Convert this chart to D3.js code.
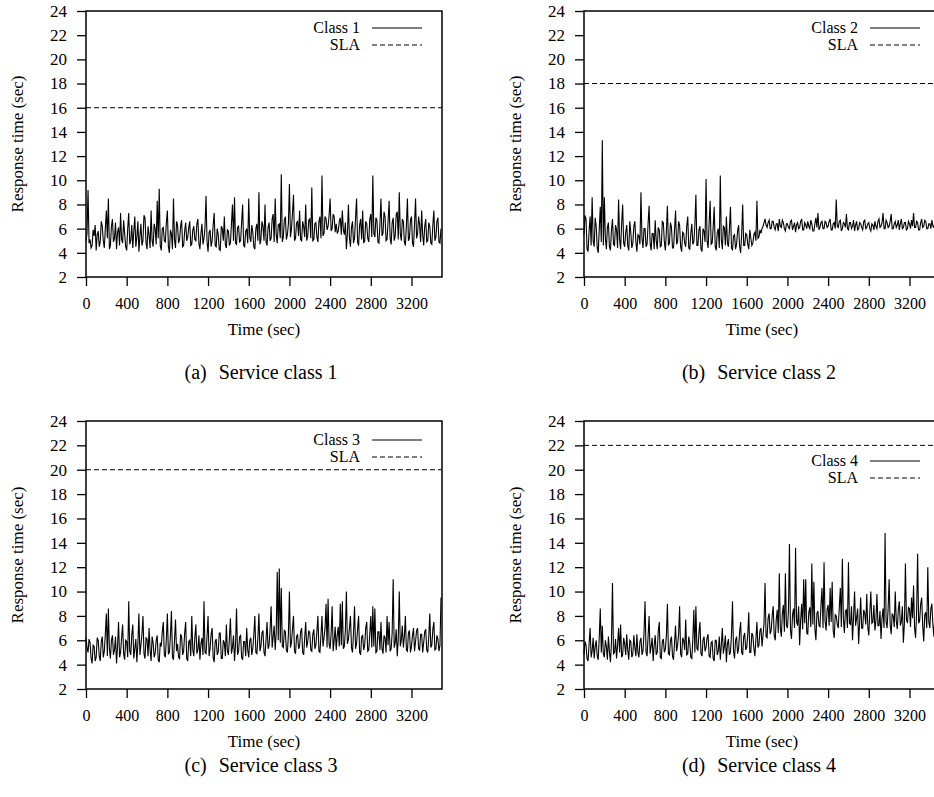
<!DOCTYPE html>
<html>
<head>
<meta charset="utf-8">
<script src="https://cdn.jsdelivr.net/npm/d3@7"></script>
<style>
body { margin: 0; background: #fff; }
svg { display: block; font-family: "Liberation Serif", "Times New Roman", serif; }
</style>
</head>
<body>
<div id="chart"></div>
<script>
// response times sampled every 10 s, starting at t = 0
var timeStep = 10;

var class1Values = [
  5.0,5.6, 9.2,4.8, 5.1,4.4, 4.6,5.9, 5.4,6.3, 4.2,5.5, 5.8,4.5, 4.9,6.6, 6.2,5.0, 4.4,6.0,
  7.5,5.2, 8.5,4.3, 4.6,6.2, 6.8,4.9, 5.2,6.5, 4.3,5.7, 6.1,4.6, 7.3,5.1, 4.8,6.7, 5.6,4.5,
  4.2,6.0, 7.3,4.7, 5.0,6.3, 4.4,5.8, 7.0,4.5, 5.3,6.6, 4.1,5.4, 6.4,4.6, 5.0,7.1, 6.9,4.8,
  4.3,6.2, 5.5,4.4, 7.5,5.0, 4.5,6.4, 6.0,4.7, 8.3,5.2, 9.3,4.6, 4.2,6.0, 6.1,5.0, 4.9,6.5,
  7.5,4.5, 4.0,5.9, 5.6,4.3, 8.5,5.1, 4.4,6.6, 6.3,4.8, 5.1,6.2, 6.7,4.5, 4.6,5.8, 6.5,5.0,
  5.3,6.1, 6.6,4.6, 4.7,5.9, 6.2,5.1, 5.0,6.4, 6.8,4.8, 4.3,5.6, 6.4,4.7, 5.2,6.1, 8.7,4.9,
  4.1,5.7, 5.9,4.5, 5.0,6.3, 7.3,4.6, 4.5,6.0, 5.5,4.3, 4.2,6.2, 6.0,5.0, 7.0,4.7, 4.4,5.9,
  5.8,4.6, 4.8,6.4, 8.0,5.0, 8.6,4.8, 4.7,6.1, 6.2,4.9, 5.0,6.5, 8.0,4.6, 4.5,5.8, 6.0,4.8,
  8.5,5.3, 4.9,6.3, 5.7,4.5, 4.3,6.0, 6.4,5.0, 9.0,4.7, 5.1,6.6, 6.2,5.0, 8.0,4.9, 4.6,6.1,
  6.5,5.0, 5.2,6.8, 7.2,4.9, 8.5,5.5, 4.8,6.3, 6.4,5.2, 10.5,4.9, 5.3,6.7, 7.0,5.1, 5.5,6.4,
  9.7,5.3, 6.0,7.3, 8.8,5.0, 5.2,6.5, 6.6,5.4, 7.5,5.1, 5.0,6.6, 6.2,5.3, 8.0,5.0, 5.4,6.7,
  6.8,5.2, 9.4,5.0, 5.1,6.4, 6.5,5.3, 4.9,6.6, 7.0,5.2, 10.4,5.4, 5.6,7.0, 6.8,5.9, 6.2,7.1,
  8.5,5.8, 6.0,7.2, 7.0,5.7, 6.4,5.6, 5.8,6.6, 6.9,5.5, 7.5,5.9, 5.5,6.5, 4.3,5.6, 8.0,5.2,
  4.5,6.1, 6.6,4.8, 5.2,6.9, 8.5,4.9, 4.6,6.3, 6.8,5.1, 7.5,4.8, 5.0,6.6, 6.4,5.2, 4.9,6.8,
  7.2,5.3, 10.4,5.6, 5.3,6.9, 6.7,4.9, 4.8,6.4, 8.5,5.4, 5.6,7.4, 7.0,5.0, 5.1,6.6, 8.3,5.2,
  4.7,6.5, 6.9,5.0, 5.4,7.2, 7.4,5.1, 9.0,5.6, 5.0,6.8, 6.6,4.9, 4.6,6.3, 8.5,5.0, 5.2,6.7,
  7.0,4.8, 4.5,6.4, 8.5,5.2, 5.6,7.0, 6.3,4.9, 7.5,5.5, 4.6,6.2, 6.8,4.9, 5.0,6.5, 6.2,4.8,
  4.7,6.3, 7.5,5.0, 5.3,6.6, 6.9,4.9, 4.8,6.0
];

var class2Values = [
  5.5,7.1, 6.8,4.3, 4.1,5.8, 7.0,4.6, 8.6,5.0, 4.5,6.9, 6.2,4.4, 4.0,6.0, 7.8,4.9, 13.3,4.6,
  8.6,5.2, 4.3,6.1, 6.5,4.5, 4.2,5.9, 6.8,4.7, 4.6,6.3, 5.9,4.4, 8.4,5.1, 4.3,6.4, 8.0,4.8,
  4.5,5.7, 6.3,4.6, 4.2,6.6, 5.7,4.4, 4.8,6.2, 6.6,4.9, 4.1,5.5, 5.4,4.7, 9.0,5.2, 4.4,6.0,
  6.0,4.5, 4.7,6.4, 7.9,4.8, 4.2,5.6, 5.6,4.3, 6.7,5.0, 4.3,6.1, 5.9,4.5, 4.6,6.6, 6.5,4.9,
  4.2,5.8, 7.9,4.6, 4.8,6.5, 6.1,4.4, 4.4,5.9, 7.5,4.7, 4.9,6.6, 6.3,4.5, 4.1,5.7, 5.6,4.8,
  4.5,6.2, 7.0,4.4, 4.3,5.6, 6.4,4.7, 4.9,6.3, 8.8,4.6, 4.6,5.9, 6.2,4.3, 4.1,6.0, 5.8,4.9,
  10.1,5.0, 4.4,6.4, 8.3,4.7, 4.8,6.1, 7.8,4.5, 4.2,5.7, 6.0,4.4, 10.4,5.1, 4.3,6.2, 6.1,4.6,
  7.0,4.8, 4.5,6.0, 7.8,4.4, 4.2,5.4, 5.5,4.3, 4.7,5.8, 6.3,4.5, 4.0,5.5, 8.0,4.6, 4.6,5.6,
  5.5,4.7, 4.3,5.9, 5.2,4.6, 4.8,5.5, 5.7,5.0, 8.3,5.2, 5.3,5.9, 5.6,6.0, 6.2,6.5, 6.8,6.3,
  6.1,6.5, 6.7,6.0, 6.0,6.6, 6.6,6.1, 5.9,6.4, 6.4,5.8, 6.8,6.2, 6.1,6.7, 6.5,6.0, 5.8,6.4,
  6.4,6.1, 6.0,6.6, 6.7,5.9, 6.2,6.5, 5.7,6.3, 6.5,6.0, 6.1,6.6, 6.8,5.9, 5.9,6.5, 6.3,6.0,
  6.6,6.2, 6.0,6.7, 6.4,5.8, 5.8,6.4, 6.9,6.1, 7.3,5.9, 6.1,6.5, 6.6,6.0, 6.0,6.6, 6.5,6.1,
  6.2,6.6, 6.8,5.9, 5.9,6.4, 6.5,6.0, 8.4,6.2, 6.1,6.6, 6.7,5.8, 6.0,6.5, 6.4,6.1, 7.2,6.0,
  5.9,6.5, 6.5,6.0, 6.2,6.7, 5.8,6.3, 6.6,5.9, 6.0,6.5, 6.4,6.1, 5.9,6.6, 6.7,6.0, 6.1,6.4,
  6.5,6.0, 5.8,6.4, 6.3,5.9, 6.6,6.2, 6.0,6.6, 6.8,6.1, 6.2,6.5, 7.3,6.0, 6.0,6.7, 6.5,6.1,
  6.2,6.6, 7.2,6.0, 6.0,6.4, 6.6,6.1, 6.3,6.7, 5.9,6.4, 6.8,6.0, 6.1,6.5, 6.5,5.9, 6.0,6.6,
  6.4,6.0, 6.7,6.2, 7.3,6.1, 6.1,6.6, 6.5,5.9, 5.9,6.5, 6.8,6.1, 6.2,6.7, 6.6,6.0, 6.0,6.4,
  6.4,6.0, 6.7,6.2, 6.1,6.6, 6.5,5.9, 6.2,6.4
];

var class3Values = [
  6.2,5.4, 5.0,6.1, 5.8,4.5, 4.1,5.6, 5.5,4.3, 4.6,6.2, 6.0,4.7, 4.3,5.9, 6.3,4.6, 5.1,6.5,
  8.2,4.7, 8.6,5.3, 4.5,6.0, 6.4,4.8, 5.2,6.3, 4.1,5.5, 7.5,4.6, 5.0,6.2, 7.3,4.9, 4.4,6.0,
  5.9,4.6, 9.2,5.1, 4.8,6.4, 7.3,4.5, 5.3,6.1, 4.2,5.7, 8.2,4.8, 5.6,6.5, 8.0,4.9, 4.5,6.2,
  6.1,4.7, 7.0,5.2, 4.3,6.3, 5.8,4.6, 4.9,6.0, 6.4,4.4, 4.2,5.8, 5.5,6.7, 7.5,4.8, 4.6,6.1,
  8.2,4.9, 5.0,6.4, 8.4,4.6, 4.4,6.0, 7.7,5.1, 5.7,4.6, 4.5,6.5, 6.3,4.8, 5.1,6.6, 7.5,4.5,
  4.3,5.9, 6.0,4.7, 8.0,5.2, 4.7,6.2, 7.3,4.9, 5.2,6.4, 4.4,5.7, 6.2,4.8, 9.2,5.0, 4.9,6.3,
  8.0,4.7, 5.3,6.5, 7.0,4.6, 4.2,5.9, 6.1,4.8, 5.0,6.6, 6.6,4.5, 4.5,6.0, 5.8,4.7, 7.3,5.1,
  4.8,6.2, 7.8,4.9, 5.4,6.4, 4.3,5.6, 8.6,4.8, 5.1,6.3, 6.4,4.6, 4.4,5.9, 5.9,4.7, 7.0,5.2,
  4.6,6.0, 6.2,4.8, 5.3,6.5, 8.0,5.0, 4.9,6.2, 8.2,5.1, 5.5,6.6, 6.8,5.0, 4.7,6.1, 7.5,5.3,
  5.6,6.9, 8.8,5.4, 6.3,7.2, 5.2,6.6, 11.6,6.0, 11.9,5.8, 10.3,5.5, 5.4,6.8, 6.7,5.2, 5.0,6.5,
  10.0,5.4, 5.8,6.9, 8.0,5.1, 4.9,6.3, 6.5,5.3, 5.5,6.7, 7.0,5.0, 4.8,6.2, 7.5,5.4, 5.9,6.8,
  6.6,5.2, 5.1,6.5, 6.9,5.3, 5.6,6.7, 8.0,5.1, 5.0,6.4, 8.0,5.5, 6.2,7.0, 9.0,5.4, 9.4,5.7,
  5.3,6.6, 8.8,5.1, 6.0,7.1, 5.2,6.4, 7.1,5.5, 9.0,5.6, 9.2,5.3, 5.5,6.8, 10.0,5.7, 6.1,7.0,
  8.0,5.4, 5.0,6.6, 8.8,5.3, 5.7,6.9, 8.0,5.0, 4.8,6.3, 6.4,5.2, 5.6,7.0, 7.5,5.1, 5.2,6.5,
  8.0,5.4, 8.8,5.5, 8.6,5.0, 5.1,6.7, 6.7,5.2, 7.5,5.3, 4.9,6.4, 6.2,5.0, 8.0,5.6, 7.5,5.1,
  5.3,6.6, 11.0,5.4, 5.8,6.9, 4.7,6.1, 10.0,5.5, 6.0,7.2, 5.4,6.3, 8.0,5.2, 5.1,6.6, 6.8,5.0,
  5.5,6.4, 7.0,5.1, 5.9,6.8, 7.0,5.3, 5.2,6.5, 6.5,5.0, 5.8,6.7, 6.9,5.2, 5.0,6.3, 8.2,5.4,
  5.6,6.9, 7.5,5.2, 5.3,6.4, 6.1,5.1, 5.6,9.5
];

var class4Values = [
  4.8,5.9, 5.6,4.5, 4.3,5.7, 7.0,4.6, 5.1,6.2, 4.5,5.5, 6.0,4.7, 4.4,6.3, 8.6,5.0, 7.2,4.9,
  4.6,6.0, 5.5,4.4, 6.3,5.1, 4.2,5.8, 10.7,4.9, 5.0,6.1, 4.5,5.6, 7.0,5.0, 7.3,4.6, 4.8,6.2,
  5.7,4.8, 6.5,5.2, 4.4,6.0, 5.9,4.6, 4.9,6.4, 5.4,4.7, 6.5,5.0, 4.6,5.9, 6.2,4.8, 5.1,6.6,
  9.2,5.0, 4.7,6.3, 8.0,4.9, 5.5,6.2, 4.3,5.6, 6.4,4.8, 5.0,6.7, 7.5,4.6, 4.5,5.9, 6.1,5.0,
  5.3,6.4, 9.0,4.9, 4.8,6.0, 6.3,4.7, 4.4,5.8, 7.2,5.1, 5.6,6.5, 8.8,4.9, 4.6,6.2, 6.0,5.2,
  7.7,4.8, 4.9,6.3, 5.8,4.6, 4.5,6.1, 8.5,5.0, 8.8,5.3, 5.2,6.6, 7.5,4.9, 4.7,6.0, 6.3,5.1,
  5.4,6.2, 6.5,4.7, 4.6,5.8, 5.9,4.5, 4.3,6.0, 6.0,4.8, 5.1,6.3, 4.4,5.6, 7.0,4.9, 5.5,6.4,
  4.2,5.7, 6.1,4.8, 5.0,6.5, 9.2,5.1, 4.5,6.0, 6.3,4.9, 5.3,6.7, 7.5,5.0, 4.8,6.3, 6.6,5.2,
  5.4,6.5, 8.3,5.0, 5.0,6.6, 6.4,5.3, 4.7,6.1, 7.5,5.4, 5.6,6.8, 7.0,5.5, 6.4,7.4, 10.7,6.3,
  6.2,7.8, 8.2,6.5, 6.8,8.0, 8.8,6.4, 6.0,7.7, 8.5,6.6, 11.5,7.0, 6.3,8.2, 8.9,6.7, 11.5,7.2,
  7.0,8.4, 13.9,6.8, 6.1,8.1, 8.6,7.0, 13.6,7.5, 7.2,8.8, 5.6,7.6, 9.0,6.9, 11.0,7.4, 11.0,6.6,
  6.5,8.3, 8.7,7.1, 12.3,7.3, 10.8,6.9, 6.0,8.2, 8.4,7.2, 7.1,8.9, 10.3,7.0, 12.4,7.6, 6.8,8.5,
  8.9,7.2, 10.3,7.5, 10.8,6.8, 6.2,8.1, 8.0,7.3, 7.0,8.7, 10.3,7.1, 12.7,7.8, 6.6,8.4, 8.5,7.0,
  12.4,7.4, 7.3,8.8, 6.0,7.9, 10.0,7.2, 7.8,8.6, 5.7,7.5, 9.5,7.0, 7.0,8.5, 8.2,7.3, 9.8,7.1,
  6.4,8.3, 10.0,7.4, 7.5,8.9, 6.8,7.6, 9.8,7.2, 7.2,8.4, 6.1,7.8, 8.6,7.0, 14.8,7.5, 7.0,8.6,
  11.0,7.3, 6.5,8.2, 8.0,7.1, 10.0,7.6, 6.9,8.5, 9.2,7.2, 7.5,8.8, 5.8,7.4, 12.3,7.7, 7.4,8.7,
  8.6,7.1, 9.5,7.8, 10.5,7.0, 6.2,8.3, 13.1,7.4, 7.6,9.0, 9.5,7.2, 5.9,8.1, 8.3,7.0, 12.0,7.5,
  7.0,8.6, 9.0,7.3, 6.3,8.2, 8.0,7.1, 7.5,8.4
];

var slaValues = [16, 18, 20, 22];
var classNames = ["Class 1", "Class 2", "Class 3", "Class 4"];
var captionTags = ["(a)", "(b)", "(c)", "(d)"];
var captionTexts = ["Service class 1", "Service class 2", "Service class 3", "Service class 4"];
var xTicks = [0, 400, 800, 1200, 1600, 2000, 2400, 2800, 3200];
var yTicks = [2, 4, 6, 8, 10, 12, 14, 16, 18, 20, 22, 24];

var width = 934;
var height = 797;
var plotW = 356;
var xDomain = [0, 3500];
var yDomain = [2, 24];

// layout of the four panels
var panels = [
  { values: class1Values, left: 86,  top: 11,  h: 266, legendY: 17, captionY: 379 },
  { values: class2Values, left: 584, top: 11,  h: 266, legendY: 17, captionY: 379 },
  { values: class3Values, left: 86,  top: 421, h: 268, legendY: 19, captionY: 772 },
  { values: class4Values, left: 584, top: 421, h: 268, legendY: 40, captionY: 772 }
];

var svg = d3.select("#chart").append("svg")
    .attr("width", width)
    .attr("height", height);

svg.append("rect")
    .attr("width", width)
    .attr("height", height)
    .attr("fill", "#fff");

panels.forEach(function(p, k) {
    var g = svg.append("g").attr("transform", "translate(" + p.left + "," + p.top + ")");

    var x = d3.scaleLinear().domain(xDomain).range([0, plotW]);
    var y = d3.scaleLinear().domain(yDomain).range([p.h, 0]);

    // axes
    var xAxis = g.append("g")
        .attr("transform", "translate(0," + p.h + ")")
        .call(d3.axisBottom(x).tickValues(xTicks).tickFormat(d3.format("d")).tickSize(9).tickPadding(12));
    xAxis.selectAll("text").style("font-size", "16px");

    var yAxis = g.append("g")
        .call(d3.axisLeft(y).tickValues(yTicks).tickFormat(d3.format("d")).tickSize(9).tickPadding(10));
    yAxis.selectAll("text").style("font-size", "17px");

    g.selectAll(".domain").remove();
    xAxis.attr("font-family", null);
    yAxis.attr("font-family", null);
    g.selectAll(".tick line").attr("stroke", "#000").attr("stroke-width", 1.3);
    g.selectAll(".tick text").attr("fill", "#000");

    // SLA line
    g.append("line")
        .attr("x1", x(xDomain[0]))
        .attr("x2", x(xDomain[1]))
        .attr("y1", y(slaValues[k]))
        .attr("y2", y(slaValues[k]))
        .attr("stroke", "#000")
        .attr("stroke-width", 1)
        .attr("stroke-dasharray", "5,3");

    // response time series
    var line = d3.line()
        .x(function(_d, i) { return x(i * timeStep); })
        .y(function(d) { return y(d); });

    g.append("path")
        .datum(p.values)
        .attr("d", line)
        .attr("fill", "none")
        .attr("stroke", "#000")
        .attr("stroke-width", 1.1);

    // frame
    g.append("rect")
        .attr("width", plotW)
        .attr("height", p.h)
        .attr("fill", "none")
        .attr("stroke", "#000")
        .attr("stroke-width", 1.5);

    // legend
    var lg = g.append("g").attr("transform", "translate(0," + p.legendY + ")");
    lg.append("text")
        .attr("x", 274).attr("y", 0).attr("dy", "0.33em")
        .attr("text-anchor", "end")
        .style("font-size", "16px")
        .text(classNames[k]);
    lg.append("line")
        .attr("x1", 286).attr("x2", 336).attr("y1", 0).attr("y2", 0)
        .attr("stroke", "#000").attr("stroke-width", 1.1);
    lg.append("text")
        .attr("x", 274).attr("y", 17).attr("dy", "0.33em")
        .attr("text-anchor", "end")
        .style("font-size", "16px")
        .text("SLA");
    lg.append("line")
        .attr("x1", 286).attr("x2", 336).attr("y1", 17).attr("y2", 17)
        .attr("stroke", "#000").attr("stroke-width", 1)
        .attr("stroke-dasharray", "5,3");

    // axis titles
    g.append("text")
        .attr("x", plotW / 2)
        .attr("y", p.h + 58)
        .attr("text-anchor", "middle")
        .style("font-size", "17px")
        .text("Time (sec)");

    g.append("text")
        .attr("transform", "translate(-63," + (p.h / 2) + ") rotate(-90)")
        .attr("text-anchor", "middle")
        .style("font-size", "17px")
        .text("Response time (sec)");

    // caption
    var cap = svg.append("text")
        .attr("x", p.left + plotW / 2 - 3)
        .attr("y", p.captionY)
        .attr("text-anchor", "middle")
        .style("font-size", "20px");
    cap.append("tspan").text(captionTags[k]);
    cap.append("tspan").attr("dx", 12).text(captionTexts[k]);
});
</script>
</body>
</html>
